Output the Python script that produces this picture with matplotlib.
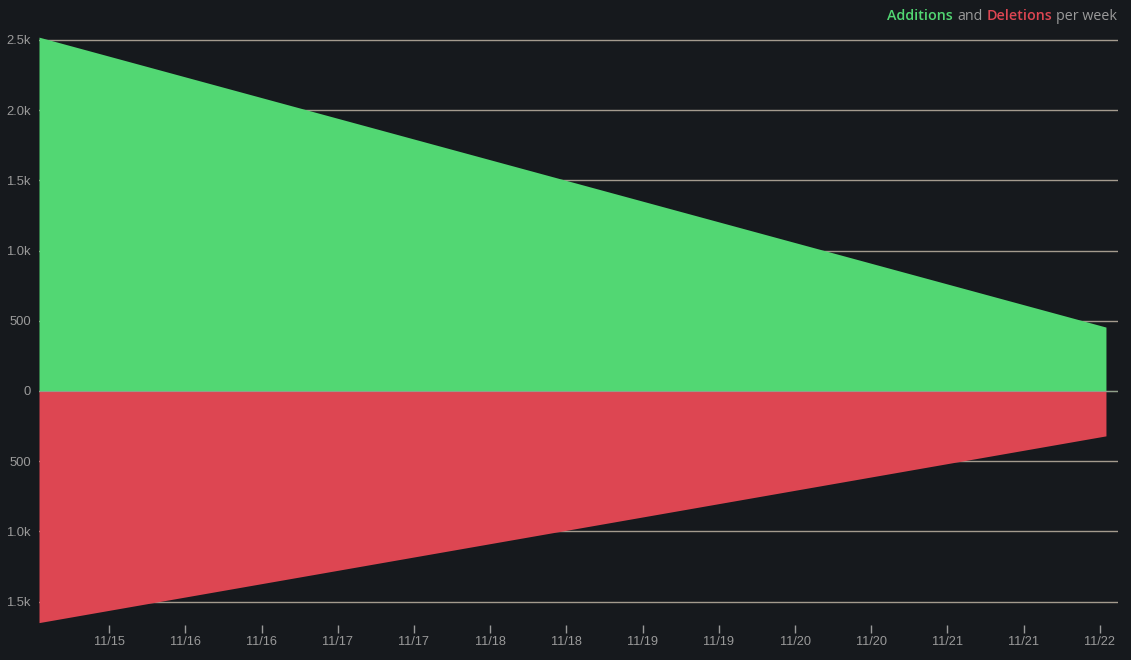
import matplotlib
matplotlib.use("Agg")
from matplotlib import pyplot as plt

# weekly data, x in days from start of week
week_days = [0, 7]
additions = [2520, 455]
deletions = [-1650, -320]

tick_pos = [0.46 + 0.5 * i for i in range(14)]
tick_labels = ['11/15', '11/16', '11/16', '11/17', '11/17', '11/18', '11/18',
               '11/19', '11/19', '11/20', '11/20', '11/21', '11/21', '11/22']
y_ticks = [-1500, -1000, -500, 0, 500, 1000, 1500, 2000, 2500]
y_labels = ['1.5k', '1.0k', '500', '0', '500', '1.0k', '1.5k', '2.0k', '2.5k']

bg = '#16191d'
green = '#52d773'
red = '#dd4652'
grid_col = '#a49b8e'
text_col = '#9a9a9a'

plt.rcParams['font.family'] = ['Liberation Sans', 'DejaVu Sans']

fig = plt.figure(figsize=(11.31, 6.6), dpi=100)
fig.patch.set_facecolor(bg)
ax = fig.add_axes([39 / 1131, 35 / 660, (1118 - 39) / 1131, (623 - 35) / 660])
ax.set_facecolor(bg)

for y in y_ticks:
    ax.axhline(y, color=grid_col, lw=1, zorder=1)

ax.fill_between(week_days, 0, additions, color=green, lw=0, zorder=2)
ax.fill_between(week_days, deletions, 0, color=red, lw=0, zorder=2)
ax.axhline(0, color='#8fa08a', lw=0.8, zorder=3)

ax.set_xlim(0, 7.079)
ax.set_ylim(-1667, 2521)

ax.set_xticks(tick_pos)
ax.set_xticklabels(tick_labels)
ax.set_yticks(y_ticks)
ax.set_yticklabels(y_labels)
ax.tick_params(axis='x', colors=text_col, length=6, width=1, labelsize=9.2, pad=2)
ax.tick_params(axis='y', colors=text_col, length=0, labelsize=9.4, pad=6)
for s in ax.spines.values():
    s.set_visible(False)

# coloured title, built right to left
parts = [('per week', text_col, 'normal'), ('Deletions', red, 'semibold'),
         ('and', text_col, 'normal'), ('Additions', green, 'semibold')]
fig.canvas.draw()
renderer = fig.canvas.get_renderer()
x_right = 1117
for txt, col, wt in parts:
    t = fig.text(x_right / 1131, 1 - 16 / 660, txt, color=col, ha='right', va='center',
                 fontsize=10.3, fontweight=wt, family=['Open Sans', 'DejaVu Sans'])
    bb = t.get_window_extent(renderer)
    x_right = bb.x0 - 4

fig.savefig('out.png', dpi=100, facecolor=bg)
